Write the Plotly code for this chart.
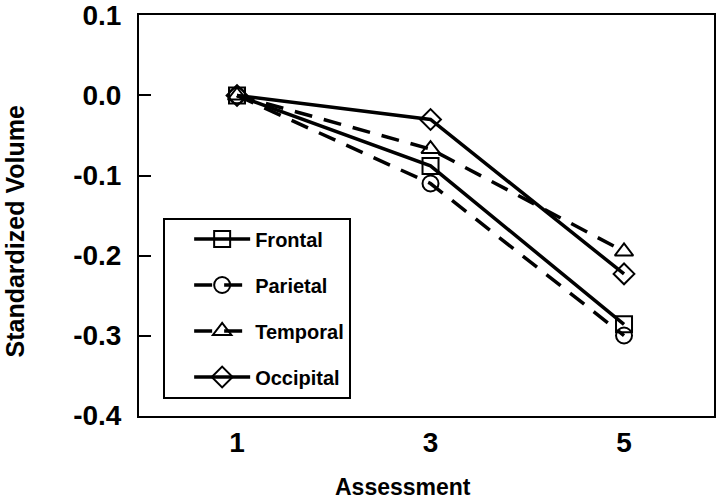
import plotly.graph_objects as go

assessments = [1, 3, 5]
frontal = [0.0, -0.088, -0.286]
parietal = [0.0, -0.110, -0.300]
temporal = [0.0, -0.067, -0.195]
occipital = [0.0, -0.030, -0.223]

series_names = ["Frontal", "Parietal", "Temporal", "Occipital"]
series_values = [frontal, parietal, temporal, occipital]
series_symbols = ["square-open", "circle-open", "triangle-up-open", "diamond-open"]
series_dash = ["solid", "18px,12px", "18px,12px", "solid"]

y_tickvals = [0.1, 0.0, -0.1, -0.2, -0.3, -0.4]
y_ticktext = ["0.1", "0.0", "-0.1", "-0.2", "-0.3", "-0.4"]
x_tickvals = [1, 3, 5]
x_ticktext = ["1", "3", "5"]
x_title = "Assessment"
y_title = "Standardized Volume"

FONT = "Liberation Sans, Arial, sans-serif"

fig = go.Figure()
for i, (name, vals, sym, dash) in enumerate(zip(series_names, series_values, series_symbols, series_dash)):
    fig.add_trace(go.Scatter(
        x=assessments, y=vals, name=name, mode="lines+markers",
        line=dict(color="black", width=3.5, dash=dash),
        marker=dict(symbol=sym, size=16, color="black", line=dict(width=2, color="black")),
        legendgroup=name,
    ))

fig.update_layout(
    width=720, height=504,
    margin=dict(l=139, r=6, t=15, b=88, autoexpand=False),
    paper_bgcolor="white", plot_bgcolor="white",
    font=dict(family=FONT, color="black", weight="bold"),
    showlegend=True,
    legend=dict(
        x=0.042, y=0.495, xanchor="left", yanchor="top",
        bordercolor="black", borderwidth=2, bgcolor="white",
        font=dict(family=FONT, size=20, color="black", weight="bold"),
        tracegroupgap=17, traceorder="grouped",
        itemwidth=56, indentation=24,
    ),
    xaxis=dict(
        range=[-0.013, 5.93], tickvals=x_tickvals, ticktext=x_ticktext,
        ticks="", showgrid=False, zeroline=False, automargin=False,
        showline=True, linecolor="black", linewidth=2, mirror=True,
        tickfont=dict(family=FONT, size=28, weight="bold"),
        ticklabelstandoff=0, ticklabeloverflow="allow",
    ),
    yaxis=dict(
        range=[-0.4006, 0.1006], tickvals=y_tickvals, ticktext=y_ticktext,
        ticks="inside", ticklen=12, tickwidth=2, tickcolor="black",
        showgrid=False, zeroline=False, automargin=False,
        showline=True, linecolor="black", linewidth=2, mirror=True,
        tickfont=dict(family=FONT, size=28, weight="bold"),
        ticklabelstandoff=10, ticklabeloverflow="allow",
    ),
    annotations=[
        dict(text=x_title, xref="paper", yref="paper", x=0.459, y=-0.178,
             xanchor="center", yanchor="middle", showarrow=False,
             font=dict(family=FONT, size=23, weight="bold", color="black")),
        dict(text=y_title, xref="paper", yref="paper", x=-0.2157, y=0.46,
             xanchor="center", yanchor="middle", showarrow=False, textangle=-90,
             font=dict(family=FONT, size=25, weight="bold", color="black")),
    ],
)

fig.write_html("out.html", config={"displayModeBar": False},
               post_script="document.body.style.margin='0';")
